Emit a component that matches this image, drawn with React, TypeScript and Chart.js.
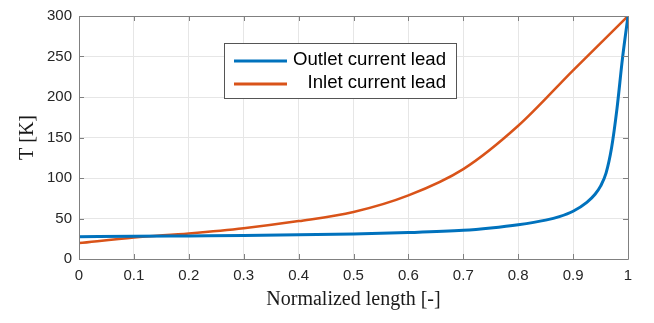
import React, { useEffect, useRef } from "react";
import { Chart, registerables } from "chart.js";

Chart.register(...registerables);

const outletX = [0, 0.1, 0.2, 0.3, 0.4, 0.5, 0.6, 0.7, 0.75, 0.8, 0.85, 0.875, 0.9, 0.925, 0.94, 0.95, 0.96, 0.97, 0.98, 0.99, 1];
const outletT = [27.6, 28, 28.5, 29, 29.8, 31, 32.6, 35.4, 38.3, 42.3, 48, 52.3, 59, 70, 80, 90, 106, 137, 186, 248, 300];
const inletX = [0, 0.1, 0.2, 0.3, 0.4, 0.5, 0.6, 0.7, 0.8, 0.9, 1];
const inletT = [19.6, 26.5, 31.6, 38, 46.8, 58, 78.5, 111, 164.5, 233, 300];
const seriesNames = ["Outlet current lead", "Inlet current lead"];
const seriesColors = ["#0072BD", "#D95319"];
const xTicks = [0, 0.1, 0.2, 0.3, 0.4, 0.5, 0.6, 0.7, 0.8, 0.9, 1];
const yTicks = [0, 50, 100, 150, 200, 250, 300];

const AXIS_COLOR = "#808080";
const TICK_TEXT = "#262626";

const matlabPlugin = {
  id: "matlabBox",
  afterDatasetsDraw(chart: any) {
    const { ctx, chartArea: a, scales } = chart;
    const xs = scales.x;
    const ys = scales.y;
    ctx.save();
    ctx.strokeStyle = AXIS_COLOR;
    ctx.lineWidth = 1;
    ctx.beginPath();
    ctx.rect(Math.round(a.left) + 0.5, Math.round(a.top) + 0.5, Math.round(a.right - a.left), Math.round(a.bottom - a.top));
    ctx.stroke();
    const tl = 5;
    ctx.beginPath();
    for (const v of xTicks) {
      const px = Math.round(xs.getPixelForValue(v)) + 0.5;
      ctx.moveTo(px, a.bottom);
      ctx.lineTo(px, a.bottom - tl);
      ctx.moveTo(px, a.top);
      ctx.lineTo(px, a.top + tl);
    }
    for (const v of yTicks) {
      const py = Math.round(ys.getPixelForValue(v)) + 0.5;
      ctx.moveTo(a.left, py);
      ctx.lineTo(a.left + tl, py);
      ctx.moveTo(a.right, py);
      ctx.lineTo(a.right - tl, py);
    }
    ctx.stroke();

    // legend
    const bx = 224.5, by = 43.5, bw = 232, bh = 55;
    ctx.fillStyle = "#ffffff";
    ctx.fillRect(bx, by, bw, bh);
    ctx.strokeStyle = "#555555";
    ctx.lineWidth = 1;
    ctx.strokeRect(bx, by, bw, bh);
    const rows = [61, 84];
    ctx.font = "18.6px 'Liberation Sans', Arial, sans-serif";
    ctx.textAlign = "right";
    ctx.textBaseline = "middle";
    seriesNames.forEach((name, i) => {
      ctx.strokeStyle = seriesColors[i];
      ctx.lineWidth = 3;
      ctx.beginPath();
      ctx.moveTo(234, rows[i]);
      ctx.lineTo(287, rows[i]);
      ctx.stroke();
      ctx.fillStyle = "#000000";
      ctx.fillText(name, 446, rows[i] - 1);
    });
    ctx.restore();
  },
};

export default function App() {
  const ref = useRef<HTMLCanvasElement | null>(null);
  useEffect(() => {
    if (!ref.current) return;
    const chart = new Chart(ref.current, {
      type: "line",
      data: {
        datasets: [
          {
            label: seriesNames[0],
            data: outletX.map((x, i) => ({ x, y: outletT[i] })),
            borderColor: seriesColors[0],
            borderWidth: 3,
            pointRadius: 0,
            cubicInterpolationMode: "monotone",
            fill: false,
          },
          {
            label: seriesNames[1],
            data: inletX.map((x, i) => ({ x, y: inletT[i] })),
            borderColor: seriesColors[1],
            borderWidth: 2.5,
            pointRadius: 0,
            cubicInterpolationMode: "monotone",
            fill: false,
          },
        ],
      },
      options: {
        animation: false,
        responsive: false,
        layout: { padding: { top: 9, right: 26, left: 0, bottom: 0 } },
        plugins: { legend: { display: false }, tooltip: { enabled: false } },
        scales: {
          x: {
            type: "linear",
            min: 0,
            max: 1,
            afterBuildTicks: (s: any) => {
              s.ticks = xTicks.map((v) => ({ value: v }));
            },
            afterFit: (s: any) => {
              s.height = 64;
            },
            grid: { color: "#e6e6e6", drawTicks: false },
            border: { display: false },
            ticks: {
              padding: 8,
              color: TICK_TEXT,
              font: { family: "'Liberation Sans', Arial, sans-serif", size: 15 },
              callback: (v: any) => String(Math.round(Number(v) * 10) / 10),
              maxRotation: 0,
            },
            title: {
              display: true,
              text: "Normalized length [-]",
              color: "#1a1a1a",
              font: { family: "'Liberation Serif', 'Times New Roman', serif", size: 20 },
              padding: { top: 0, bottom: 11 },
            },
          },
          y: {
            type: "linear",
            min: 0,
            max: 300,
            afterBuildTicks: (s: any) => {
              s.ticks = yTicks.map((v) => ({ value: v }));
            },
            afterFit: (s: any) => {
              s.width = 79;
            },
            grid: { color: "#e6e6e6", drawTicks: false },
            border: { display: false },
            ticks: {
              padding: 7,
              color: TICK_TEXT,
              font: { family: "'Liberation Sans', Arial, sans-serif", size: 15 },
            },
            title: {
              display: true,
              text: "T [K]",
              color: "#1a1a1a",
              font: { family: "'Liberation Serif', 'Times New Roman', serif", size: 20 },
              padding: { top: 16, bottom: 0 },
            },
          },
        },
      },
      plugins: [matlabPlugin],
    } as any);
    return () => chart.destroy();
  }, []);
  return (
    <div style={{ position: "fixed", left: 0, top: 0, width: 654, height: 323, background: "#ffffff" }}>
      <canvas ref={ref} width={654} height={323} style={{ display: "block", width: 654, height: 323 }} />
    </div>
  );
}
